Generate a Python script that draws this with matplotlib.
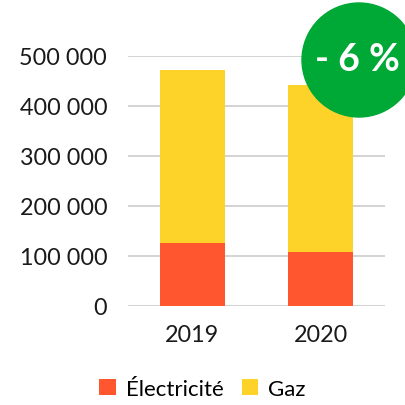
import matplotlib.pyplot as plt
from matplotlib.patches import Circle

# Données
annees = ['2019', '2020']
electricite = [125000, 107000]
gaz = [346000, 334000]
variation = '- 6 %'

plt.rcParams['font.family'] = ['Lato', 'DejaVu Sans']

fig = plt.figure(figsize=(4.05, 4.06), dpi=100)
ax = fig.add_axes([0.316, 0.245, 0.635, 0.6155])

ax.bar(annees, electricite, width=0.506, color='#FF5630', label='Électricité', zorder=3)
ax.bar(annees, gaz, width=0.506, bottom=electricite, color='#FDD32A', label='Gaz', zorder=3)

ax.set_ylim(0, 500000)
ax.set_xlim(-0.5, 1.5)
ax.set_yticks(range(0, 500001, 100000))
ax.set_yticklabels([f'{v:,}'.replace(',', ' ') for v in range(0, 500001, 100000)])
ax.yaxis.grid(True, color='#d0d0d0', linewidth=1.3, zorder=0)
ax.tick_params(length=0, labelsize=16.8, colors='#1a1a1a', pad=15)
ax.tick_params(axis='x', pad=13)
for s in ax.spines.values():
    s.set_visible(False)

fig.legend(loc='center', bbox_to_anchor=(0.5, 1 - 390 / 406), ncol=2, frameon=False,
           fontsize=16, handlelength=0.75, handleheight=0.75, handletextpad=0.45,
           columnspacing=0.8)

# pastille verte
c = Circle((3.59, 3.45), 0.57, transform=fig.dpi_scale_trans, color='#00A936', zorder=10)
fig.add_artist(c)
fig.text(3.575 / 4.05, 3.46 / 4.06, variation, color='white', fontsize=27, fontweight='bold',
         ha='center', va='center', zorder=11)

fig.savefig('out.png', dpi=100)
